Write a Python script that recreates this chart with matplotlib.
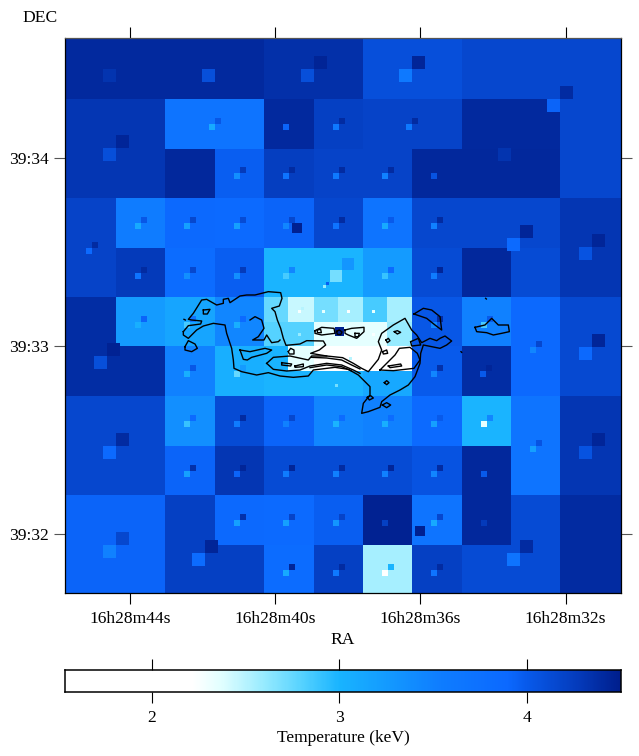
import numpy as np
import matplotlib
matplotlib.use("Agg")
import matplotlib.pyplot as plt
from matplotlib.colors import LinearSegmentedColormap, Normalize

plt.rcParams['font.family'] = ['Liberation Serif', 'DejaVu Serif']
plt.rcParams['font.size'] = 12.6

# ---- colour scale (keV, rgb)
cmap_T = [1.536, 2.22, 2.37, 2.6, 2.8, 3.0, 3.25, 3.54, 3.9, 4.0, 4.25, 4.5]
cmap_rgb = [(255,255,255),(255,255,255),(225,255,255),(150,235,255),(85,210,255),(25,180,255),
            (20,155,255),(15,125,255),(12,105,255),(8,90,235),(5,62,192),(0,30,140)]

# ---- image-pixel axes with WCS labels
ra_pos = [130, 275, 420, 565.5]
ra_labels = ['16h28m44s', '16h28m40s', '16h28m36s', '16h28m32s']
dec_pos = [158, 346, 534]
dec_labels = ['39:34', '39:33', '39:32']

# ---- temperature map, binned
x_edges = [65,116,165,215,264,288,314,338,363,387,412,462,511,560,621]
y_edges = [38,99,149,198,248,297,322,346,371,396,446,495,545,593]
temperature = [
 [4.41,4.41,4.41,4.41,4.36,4.36,4.36,4.36,4.10,4.10,4.10,4.17,4.17,4.17],
 [4.31,4.31,3.70,3.70,4.41,4.41,4.23,4.23,4.20,4.20,4.20,4.41,4.41,4.17],
 [4.31,4.31,4.42,3.97,4.25,4.25,4.20,4.20,4.20,4.20,4.42,4.42,4.42,4.17],
 [4.20,3.56,3.90,3.88,3.93,3.93,4.17,4.17,3.70,3.70,4.17,4.17,4.17,4.31],
 [4.20,4.28,3.85,3.97,3.00,3.00,3.00,3.00,3.25,3.25,4.13,4.42,4.13,4.31],
 [4.38,3.25,3.15,3.45,2.75,2.45,2.70,2.55,2.85,2.55,4.03,3.50,3.90,4.15],
 [4.38,3.25,3.15,3.45,2.80,2.80,2.35,2.35,2.35,2.60,4.03,3.50,3.90,4.15],
 [4.38,4.38,3.50,3.05,3.00,2.35,2.15,2.15,2.15,2.15,4.00,4.38,3.90,4.15],
 [4.38,4.38,3.50,3.05,3.00,3.00,3.00,3.00,3.12,3.12,4.00,4.38,3.90,4.15],
 [4.17,4.17,3.37,4.13,3.93,3.93,3.45,3.45,3.50,3.50,3.88,3.00,3.70,4.31],
 [4.17,4.17,3.93,4.31,4.13,4.13,4.13,4.13,4.13,4.13,4.06,4.42,3.70,4.31],
 [3.93,3.93,4.23,3.90,3.88,3.88,3.97,3.97,4.47,4.47,3.70,4.42,4.13,4.40],
 [3.93,3.93,4.23,4.23,3.85,3.85,4.23,4.23,2.55,2.55,4.23,4.13,4.13,4.40],
]

# ---- finer bins: centre x, centre y, size, lower-left T, upper-right T
fine_bins = [
 (116,68.5,13,4.33,None),(215,68.5,13,4.10,None),(314,68.5,13,4.10,4.45),(412,68.5,13,3.62,4.44),
 (560,99,13,3.93,4.40),(116,148,13,4.10,4.44),(511,148,13,4.33,None),(520,238,13,3.88,4.44),
 (592,247,13,4.06,4.44),(107,356,13,4.10,4.46),(592,347,13,3.90,4.44),(116,446,13,3.88,4.40),
 (592,446,13,4.06,4.44),(116,545,13,3.50,4.17),(205,553,13,3.85,4.44),(520,553,13,3.70,4.40),
 (342,270,12,2.70,3.30),
 (215,124,6,3.10,4.03),(289,124,6,3.93,None),(338.5,124,6,3.62,4.40),(412,124,6,3.62,4.40),
 (239.5,173,6,3.37,4.28),(289,173,6,3.70,4.40),(338.5,173,6,3.62,4.40),(387.5,173,6,3.50,4.40),(437,173,6,4.06,None),
 (92,248,6,3.88,4.40),(140.5,223,6,3.10,4.03),(190,223,6,3.20,4.17),(239.5,223,6,3.20,4.13),(289,223,6,3.45,4.17),
 (338.5,223,6,3.70,4.40),(387.5,223,6,3.10,4.00),(437,223,6,3.50,4.40),
 (140.5,272.5,6,3.70,4.40),(190,272.5,6,3.37,4.17),(239.5,272.5,6,3.37,4.28),(289,272.5,6,2.85,3.45),
 (387.5,272.5,6,2.90,3.88),(437,272.5,6,3.56,4.44),
 (140.5,322,6,3.05,3.93),(190,322,6,2.85,3.70),(239.5,322,6,3.05,3.88),(437,322,6,3.45,4.40),(486.5,322,6,2.85,4.00),
 (535.5,347,6,3.45,4.17),(190,371,6,3.05,4.03),(239.5,371,6,2.75,3.25),(437,371,6,3.45,4.35),(486,371,6,4.00,4.44),
 (190,421,6,2.90,3.88),(239.5,421,6,3.56,4.40),(289,421,6,3.50,4.17),(338.5,421,6,3.00,3.85),(387.5,421,6,3.05,3.85),
 (437,421,6,3.20,4.00),(486.5,421,6,2.35,3.45),(535.5,446,6,3.20,4.06),
 (190,470.5,6,3.20,4.35),(239.5,470.5,6,3.93,4.44),(289,470.5,6,3.56,4.44),(338.5,470.5,6,3.50,4.40),
 (387.5,470.5,6,3.50,4.44),(437,470.5,6,3.45,4.40),(486.5,470.5,6,4.00,None),
 (239.5,520,6,3.20,4.35),(289,520,6,3.20,4.20),(338.5,520,6,3.30,4.20),(387.5,520,6,4.23,None),(437,520,6,3.10,4.17),(486.5,520,6,4.28,None),
 (289,569.5,6,3.10,4.44),(338.5,569.5,6,3.62,4.40),(387.5,569.5,6,2.10,3.00),(437,569.5,6,3.70,4.40),
 (326,285,3,2.60,3.97),(301,310,3,2.25,2.50),(325,310,3,2.35,None),(350,310,3,2.20,None),(375,310,3,2.35,None),
 (301,333,3,2.60,None),(375,333,3,2.25,None),(338,384,3,2.70,None),(352,357,3,2.50,None),
]
# hottest-scale single bins: x0, y0, size, T
single_bins = [(292,223,10,4.48),(415,526,10,4.48),(335,327,9,4.48)]

# ---- X-ray surface-brightness contours, traced (crop units: 3 per pixel from 160,270)
contours = [
 [(70,185),(85,167),(122,162),(125,153),(95,150),(85,148),(100,130),(125,90),(140,88),(170,105),(190,100),(190,88),(205,85),(210,98),
  (240,78),(260,75),(285,75),(325,65),(362,68),(366,85),(358,108),(335,115),(345,125),(352,150),(362,175),(370,205),(378,226),
  (420,222),(440,212),(490,213),(497,225),(478,240),(452,250),(500,258),(548,263),(580,280),(605,295),(625,305),
  (655,268),(665,240),(655,215),(665,190),(700,165),(735,145),(755,180),(770,195),(785,218),(810,205),(830,212),
  (840,205),(855,198),(875,213),(860,225),(840,235),(790,225),(782,250),(780,280),(765,320),(745,345),(720,360),
  (690,375),(665,395),(660,412),(625,425),(605,430),(610,400),(630,375),(630,350),(615,335),(595,315),(565,298),
  (525,292),(460,300),(445,318),(400,322),(360,318),(325,308),(290,315),(245,305),(222,295),(220,270),(215,235),
  (200,190),(195,165),(160,160),(130,168),(110,180),(85,205),(70,195),(70,185)],
 [(270,150),(285,140),(305,150),(312,175),(295,200),(278,210),(312,210),(320,195),(335,218),(355,215),(360,210)],
 [(75,230),(85,212),(105,222),(112,235),(95,245),(75,240),(75,230)],
 [(130,120),(150,118),(142,132),(130,132),(130,120)],
 [(240,240),(250,268),(262,270),(275,262),(320,250),(335,240),(315,235),(270,245),(240,240)],
 [(320,280),(340,262),(390,258),(445,270),(455,258),(500,258)],
 [(320,280),(340,298),(380,303),(420,300),(450,288),(500,280),(545,285),(580,300),(600,310)],
 [(455,262),(500,264),(545,270),(575,285),(600,297)],
 [(450,293),(500,285),(545,290),(575,303)],
 [(385,245),(392,235),(402,240),(402,252),(388,252),(385,245)],
 [(365,278),(395,282),(392,288),(365,285),(365,278)],
 [(405,288),(430,282),(430,290),(405,292),(405,288)],
 [(465,182),(485,172),(522,175),(525,190),(485,195),(465,190),(465,182)],
 [(472,180),(482,178),(484,188),(472,188),(472,180)],
 [(555,180),(575,175),(612,172),(612,185),(590,205),(565,195),(555,190),(555,180)],
 [(585,190),(598,190),(595,200),(585,200),(585,190)],
 [(530,184),(538,180),(546,186),(542,194),(532,193),(530,184)],
 [(762,132),(790,115),(815,120),(840,140),(845,180),(825,165),(800,145),(762,132)],
 [(945,172),(975,165),(995,145),(1015,165),(1045,165),(1048,185),(1025,190),(1000,195),(980,188),(950,185),(945,172)],
 [(703,185),(712,182),(722,187),(712,192),(703,185)],
 [(678,210),(685,205),(690,212),(682,218),(678,210)],
 [(752,215),(775,205),(782,225),(755,228),(752,215)],
 [(668,245),(680,240),(683,250),(670,252),(668,245)],
 [(673,338),(680,332),(687,338),(680,344),(673,338)],
 [(622,382),(632,377),(640,384),(628,390),(622,382)],
 [(667,405),(680,398),(692,405),(680,413),(667,405)],
 [(685,288),(722,282),(725,288),(690,293),(685,288)],
 [(660,300),(705,255),(718,235),(750,232),(772,250),(780,270),(762,295),(700,302),(660,300)],
 [(903,245),(905,247)],
 [(977,85),(979,87)],
 [(72,148),(76,150)],
]

# ---- colourbar
cbar_min, cbar_max = 1.536, 4.5
cbar_ticks = [2, 3, 4]

pos = [(t - cbar_min) / (cbar_max - cbar_min) for t in cmap_T]
cols = [tuple(v / 255 for v in c) for c in cmap_rgb]
cmap = LinearSegmentedColormap.from_list('temp', list(zip(pos, cols)), N=512)
norm = Normalize(cbar_min, cbar_max)

W, H = 639, 756
fig = plt.figure(figsize=(W / 100, H / 100), dpi=100, facecolor='white')
ax = fig.add_axes([65 / W, 1 - 593 / H, 556 / W, 555 / H])

kw = dict(cmap=cmap, norm=norm, shading='flat', antialiased=False, linewidth=0, rasterized=False)
ax.pcolormesh(x_edges, y_edges, np.array(temperature), **kw)
for cx, cy, s, low, up in fine_bins:
    if low is not None:
        ax.pcolormesh([cx - s, cx], [cy, cy + s], [[low]], **kw)
    if up is not None:
        ax.pcolormesh([cx, cx + s], [cy - s, cy], [[up]], **kw)
for x0, y0, s, t in single_bins:
    ax.pcolormesh([x0, x0 + s], [y0, y0 + s], [[t]], **kw)

for c in contours:
    a = np.array(c, float)
    ax.plot(160 + a[:, 0] / 3, 270 + a[:, 1] / 3, color='black', lw=1.0, solid_joinstyle='round')

ax.set_xlim(65, 621)
ax.set_ylim(593, 38)
ax.set_xticks(ra_pos, ra_labels)
ax.set_yticks(dec_pos, dec_labels)
ax.tick_params(axis='x', which='major', length=8.2, width=0.8, color='black', top=True, bottom=True, pad=5)
ax.tick_params(axis='y', which='major', length=8.2, width=0.8, color='#555555', left=True, right=True, pad=3.8)
for s in ax.spines.values():
    s.set_linewidth(0.9)
ax.spines['top'].set_color('#555555')

fig.text(40 / W, 1 - 18 / H, 'DEC', ha='center', va='center')
fig.text(343 / W, 1 - 639.5 / H, 'RA', ha='center', va='center')

cax = fig.add_axes([64.5 / W, 1 - 692 / H, 556 / W, 22 / H])
grad = np.linspace(cbar_min, cbar_max, 512)[None, :]
cax.imshow(grad, extent=[cbar_min, cbar_max, 0, 1], aspect='auto', cmap=cmap, norm=norm, interpolation='nearest')
cax.set_xlim(cbar_min, cbar_max)
cax.set_yticks([])
cax.set_xticks(cbar_ticks, [str(t) for t in cbar_ticks])
cax.tick_params(axis='x', length=8.2, width=0.8, top=True, bottom=True, pad=4.4)
for s in cax.spines.values():
    s.set_linewidth(1.1)
fig.text(343 / W, 1 - 738.5 / H, 'Temperature (keV)', ha='center', va='center')

fig.savefig('out.png', dpi=100, facecolor='white')
